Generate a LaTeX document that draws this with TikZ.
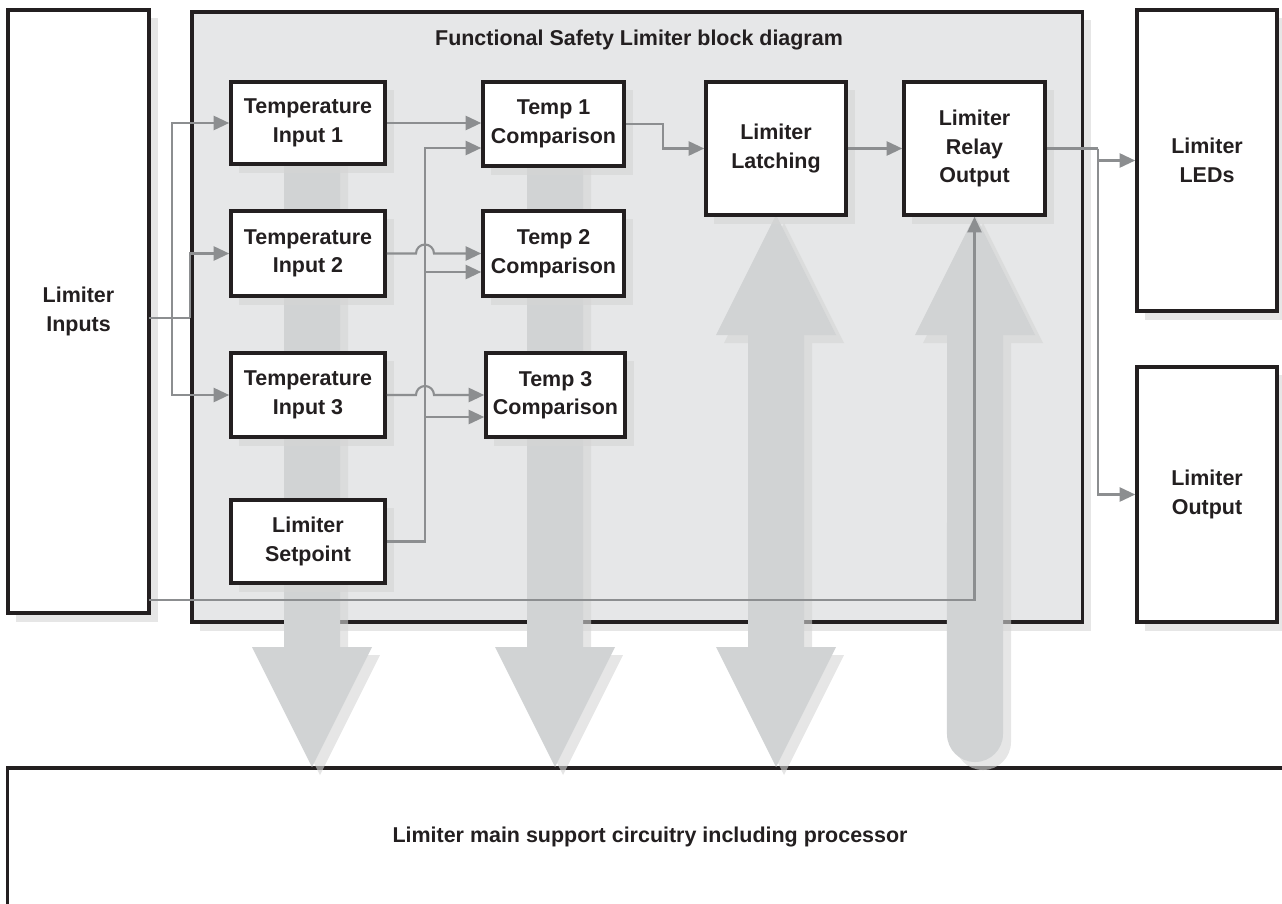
\documentclass[tikz,border=0pt]{standalone}
\usepackage{fontspec}
\setmainfont{Liberation Sans}
\usetikzlibrary{arrows.meta,shadows}
\definecolor{ink}{HTML}{231F20}
\definecolor{lnk}{HTML}{8C8E90}
\definecolor{arw}{HTML}{D1D3D4}
\definecolor{panel}{HTML}{E6E7E8}
\definecolor{shd}{HTML}{D5D5D5}
\tikzset{
  txt/.style={font=\fontsize{6.1pt}{8.1pt}\selectfont\bfseries, text=ink, align=center},
  myshadow/.style={drop shadow={shadow xshift=0.085cm,shadow yshift=-0.085cm,fill=shd,opacity=0.6}},
  blk/.style={txt, draw=ink, line width=1pt, fill=white, inner sep=0pt},
  conn/.style={draw=lnk, line width=0.6pt},
  arr/.style={conn, -{Triangle[length=4.4pt,width=4pt]}},
  bigarrow/.style={fill=arw},
  bigshadow/.style={fill=shd, fill opacity=0.6},
}
\begin{document}
\begin{tikzpicture}[x=0.01cm,y=-0.01cm]
\useasboundingbox (0,0) rectangle (1282,903);
\clip (0,0) rectangle (1282,903);
% outer boxes
\node[draw=ink, line width=1pt, fill=panel, myshadow, minimum width=8.9cm, minimum height=6.1cm] (panel) at (637,317) {};
\node[blk, myshadow, minimum width=1.41cm, minimum height=6.03cm] (inputs) at (78.5,311.5) {Limiter\\Inputs};
\node[blk, myshadow, minimum width=1.40cm, minimum height=3.01cm] (LED) at (1207,160.5) {Limiter\\LEDs};
\node[blk, myshadow, minimum width=1.40cm, minimum height=2.55cm] (OUT) at (1207,494.5) {Limiter\\Output};
\node[blk, minimum width=12.84cm, minimum height=1.38cm] (sup) at (650,837) {Limiter main support circuitry including processor};
\node[txt] (title) at (639,40) {Functional Safety Limiter block diagram};
% big arrows
\foreach \s/\st in {8/bigshadow,0/bigarrow}{
  \fill[\st, shift={(\s,\s)}] (284,150) -- (340,150) -- (340,647) -- (372,647) -- (312,767) -- (252,647) -- (284,647) -- cycle;
  \fill[\st, shift={(\s,\s)}] (527,150) -- (583,150) -- (583,647) -- (615,647) -- (555,767) -- (495,647) -- (527,647) -- cycle;
  \fill[\st, shift={(\s,\s)}] (776,215) -- (836,335) -- (804,335) -- (804,647) -- (836,647) -- (776,767) -- (716,647) -- (748,647) -- (748,335) -- (716,335) -- cycle;
  \fill[\st, shift={(\s,\s)}] (975,215) -- (1035,335) -- (1003,335) -- (1003,734) arc[start angle=0,end angle=-180,radius=0.28cm] -- (947,335) -- (915,335) -- cycle;
}
% inner boxes
\node[blk, myshadow, minimum width=1.54cm, minimum height=0.82cm] (TI1) at (308,123) {Temperature\\Input 1};
\node[blk, myshadow, minimum width=1.54cm, minimum height=0.85cm] (TI2) at (308,253.5) {Temperature\\Input 2};
\node[blk, myshadow, minimum width=1.54cm, minimum height=0.84cm] (TI3) at (308,395) {Temperature\\Input 3};
\node[blk, myshadow, minimum width=1.54cm, minimum height=0.83cm] (SP) at (308,541.5) {Limiter\\Setpoint};
\node[blk, myshadow, minimum width=1.41cm, minimum height=0.84cm] (C1) at (553.5,124) {Temp 1\\Comparison};
\node[blk, myshadow, minimum width=1.41cm, minimum height=0.85cm] (C2) at (553.5,253.5) {Temp 2\\Comparison};
\node[blk, myshadow, minimum width=1.39cm, minimum height=0.84cm] (C3) at (555.5,395) {Temp 3\\Comparison};
\node[blk, myshadow, minimum width=1.40cm, minimum height=1.33cm] (LAT) at (776,148.5) {Limiter\\Latching};
\node[blk, myshadow, minimum width=1.41cm, minimum height=1.33cm] (REL) at (974.5,148.5) {Limiter\\Relay\\Output};
% connectors
\coordinate (inA) at (149,318);
\coordinate (j1) at (172,318);
\coordinate (j2) at (190,318);
\draw[conn] (inA) -- (j2);
\draw[arr] (j2) |- (TI2.west);
\draw[arr] (j1) |- (TI1.west);
\draw[arr] (j1) |- (TI3.west);
\coordinate (sv) at (425,148);
\draw[arr] (SP.east) -| (sv) -- (sv -| C1.west);
\coordinate (s2) at (425,272);
\draw[arr] (s2) -- (s2 -| C2.west);
\coordinate (s3) at (425,417);
\draw[arr] (s3) -- (s3 -| C3.west);
\draw[arr] (TI1.east) -- (TI1.east -| C1.west);
\draw[arr] (TI2.east) -- ([xshift=-0.09cm]TI2.east -| sv) arc[start angle=180,end angle=0,radius=0.09cm] -- (TI2.east -| C2.west);
\draw[arr] (TI3.east) -- ([xshift=-0.09cm]TI3.east -| sv) arc[start angle=180,end angle=0,radius=0.09cm] -- (TI3.east -| C3.west);
\coordinate (k1) at (663,124);
\draw[arr] (C1.east) -- (k1) |- (LAT.west);
\draw[arr] (LAT.east) -- (REL.west);
\coordinate (k2) at (1098,148.5);
\draw[conn] (REL.east) -- (k2);
\draw[arr] (k2) |- (LED.west);
\draw[arr] (k2) |- (OUT.west);
\coordinate (inB) at (149,600);
\draw[arr] (inB) -| (REL.south);
\end{tikzpicture}
\end{document}
